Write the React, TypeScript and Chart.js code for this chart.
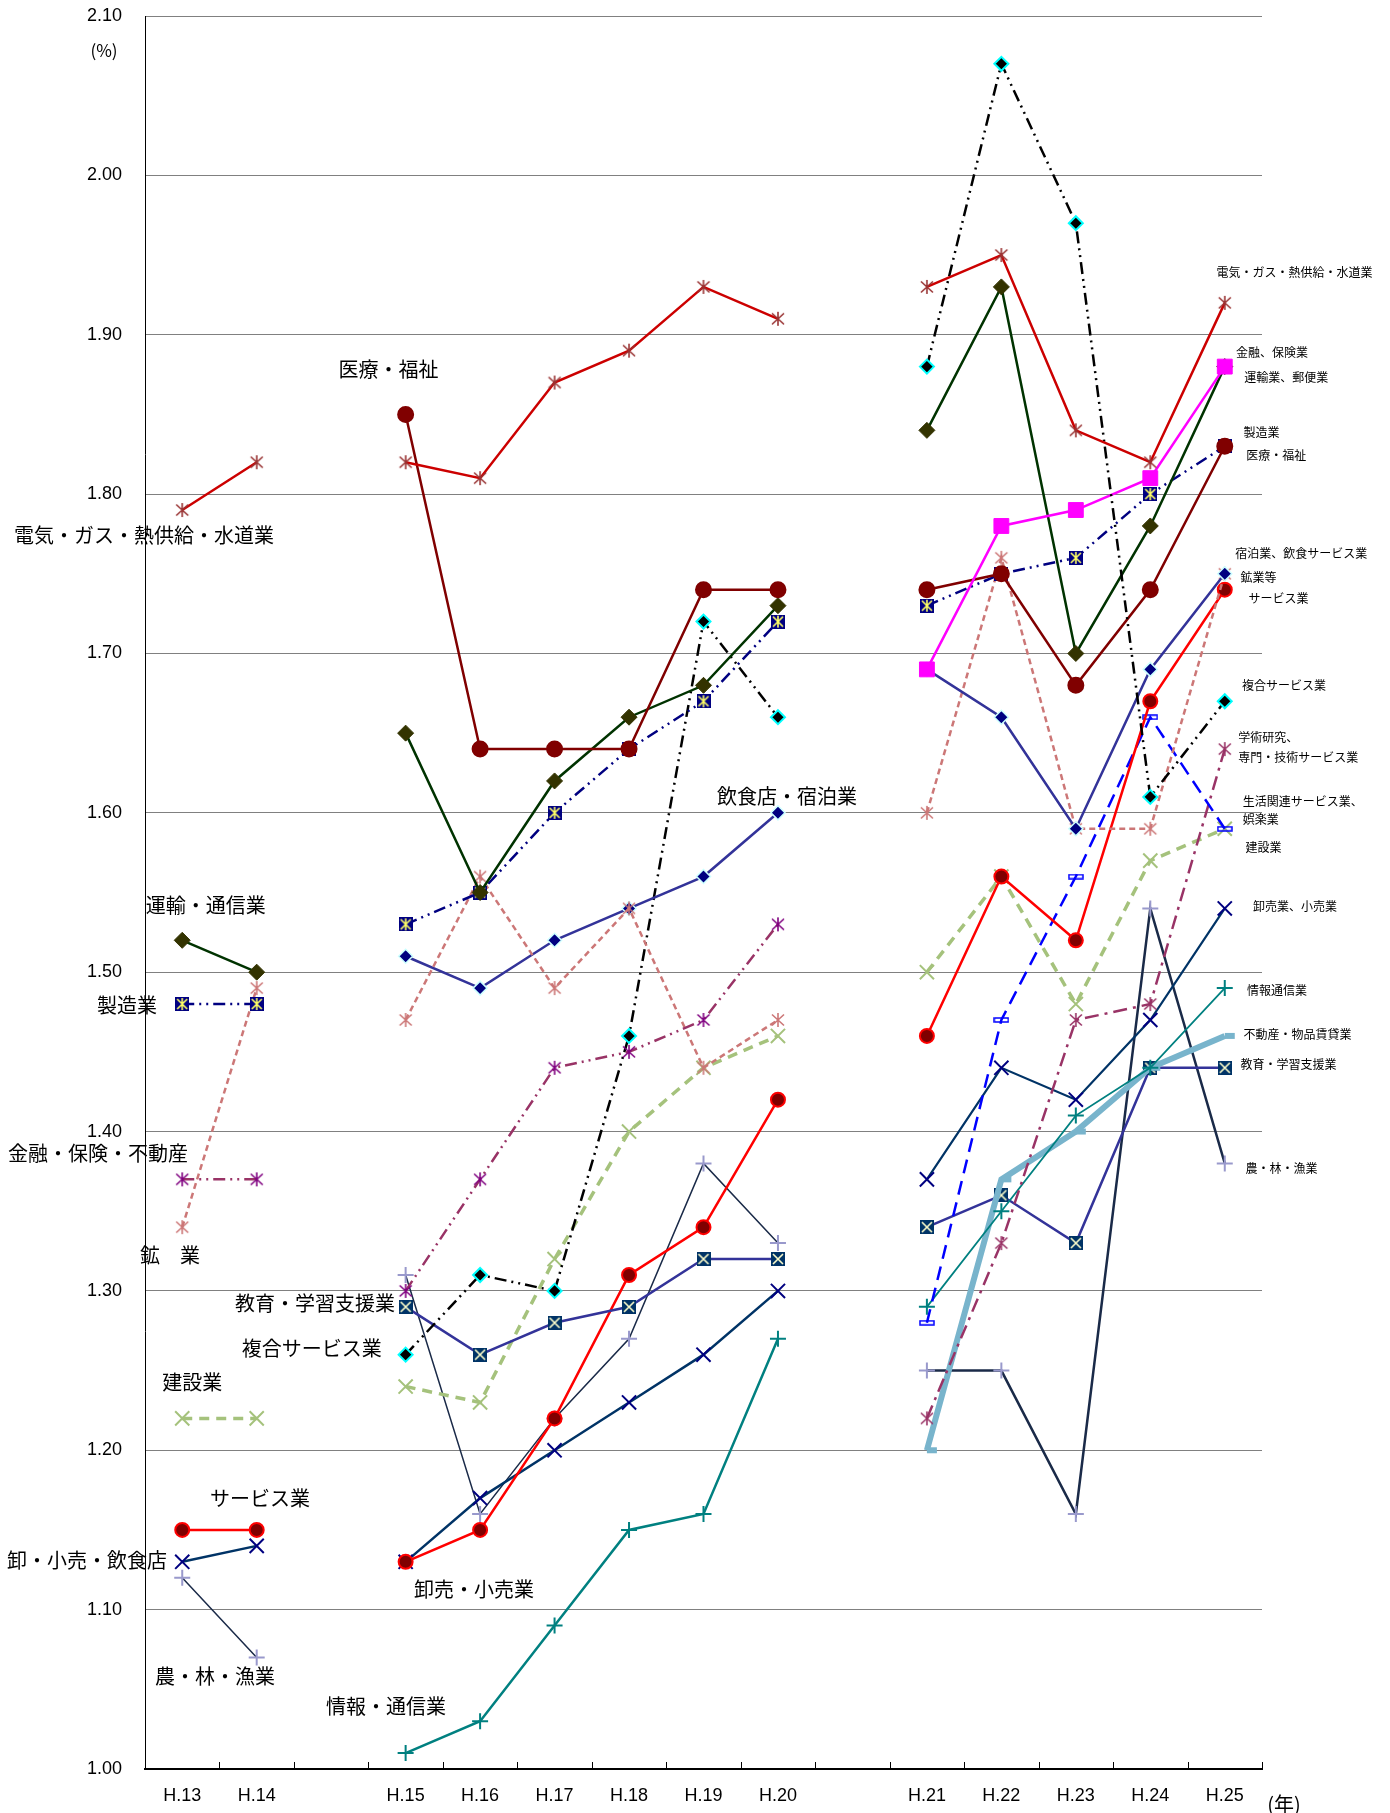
import React, { useEffect, useRef } from 'react';
import { Chart, registerables } from 'chart.js';

Chart.register(...registerables);

// ---- categories (15 slots: two gaps separate the three classifications) ----
const categories = ['H.13', 'H.14', '', 'H.15', 'H.16', 'H.17', 'H.18', 'H.19', 'H.20', '', 'H.21', 'H.22', 'H.23', 'H.24', 'H.25'];
const yTickMin = 1.0;
const yTickMax = 2.1;
const yTickStep = 0.1;

// ---- older classification: H.13, H.14, H.15, H.16, H.17, H.18, H.19, H.20 ----
const oldDenki = [1.79, 1.82, 1.82, 1.81, 1.87, 1.89, 1.93, 1.91];
const oldIryo = [null, null, 1.85, 1.64, 1.64, 1.64, 1.74, 1.74];
const oldUnyu = [1.52, 1.50, 1.65, 1.55, 1.62, 1.66, 1.68, 1.73];
const oldSeizo = [1.48, 1.48, 1.53, 1.55, 1.60, 1.64, 1.67, 1.72];
const oldKinyu = [1.37, 1.37, 1.30, 1.37, 1.44, 1.45, 1.47, 1.53];
const oldKogyo = [1.34, 1.49, 1.47, 1.56, 1.49, 1.54, 1.44, 1.47];
const oldInshoku = [null, null, 1.51, 1.49, 1.52, 1.54, 1.56, 1.60];
const oldFukugo = [null, null, 1.26, 1.31, 1.30, 1.46, 1.72, 1.66];
const oldKyoiku = [null, null, 1.29, 1.26, 1.28, 1.29, 1.32, 1.32];
const oldKensetsu = [1.22, 1.22, 1.24, 1.23, 1.32, 1.40, 1.44, 1.46];
const oldService = [1.15, 1.15, 1.13, 1.15, 1.22, 1.31, 1.34, 1.42];
const oldOroshi = [1.13, 1.14, 1.13, 1.17, 1.20, 1.23, 1.26, 1.30];
const oldNorin = [1.12, 1.07, 1.31, 1.16, 1.22, 1.27, 1.38, 1.33];
const oldJoho = [null, null, 1.01, 1.03, 1.09, 1.15, 1.16, 1.27];

// ---- newer classification: H.21 .. H.25 ----
const newDenki = [1.93, 1.95, 1.84, 1.82, 1.92];
const newFukugo = [1.88, 2.07, 1.97, 1.61, 1.67];
const newUnyu = [1.84, 1.93, 1.70, 1.78, 1.88];
const newKinyu = [1.69, 1.78, 1.79, 1.81, 1.88];
const newSeizo = [1.73, 1.75, 1.76, 1.80, 1.83];
const newIryo = [1.74, 1.75, 1.68, 1.74, 1.83];
const newShukuhaku = [1.69, 1.66, 1.59, 1.69, 1.75];
const newKogyo = [1.60, 1.76, 1.59, 1.59, 1.75];
const newService = [1.46, 1.56, 1.52, 1.67, 1.74];
const newSeikatsu = [1.28, 1.47, 1.56, 1.66, 1.59];
const newGakujutsu = [1.22, 1.33, 1.47, 1.48, 1.64];
const newKensetsu = [1.50, 1.56, 1.48, 1.57, 1.59];
const newOroshi = [1.37, 1.44, 1.42, 1.47, 1.54];
const newJoho = [1.29, 1.35, 1.41, 1.44, 1.49];
const newFudosan = [1.20, 1.37, 1.40, 1.44, 1.46];
const newKyoiku = [1.34, 1.36, 1.33, 1.44, 1.44];
const newNorin = [1.25, 1.25, 1.16, 1.54, 1.38];

// ---- on-chart labels, anchored in data units (slot index, value) ----
const bigLabels: [string, number, number][] = [
  ['電気・ガス・熱供給・水道業', -2.26, 1.774],
  ['医療・福祉', 2.1, 1.8785],
  ['運輸・通信業', -0.49, 1.542],
  ['製造業', -1.145, 1.479],
  ['金融・保険・不動産', -2.34, 1.386],
  ['鉱　業', -0.567, 1.3225],
  ['教育・学習支援業', 0.71, 1.292],
  ['複合サービス業', 0.8, 1.264],
  ['建設業', -0.27, 1.2425],
  ['サービス業', 0.373, 1.17],
  ['卸・小売・飲食店', -2.353, 1.131],
  ['卸売・小売業', 3.112, 1.113],
  ['農・林・漁業', -0.366, 1.058],
  ['情報・通信業', 1.93, 1.039],
  ['飲食店・宿泊業', 7.18, 1.61],
];
const smallLabels: [string, number, number][] = [
  ['電気・ガス・熱供給・水道業', 13.89, 1.939],
  ['金融、保険業', 14.15, 1.889],
  ['運輸業、郵便業', 14.26, 1.8735],
  ['製造業', 14.25, 1.839],
  ['医療・福祉', 14.29, 1.8245],
  ['宿泊業、飲食サービス業', 14.14, 1.763],
  ['鉱業等', 14.21, 1.748],
  ['サービス業', 14.32, 1.7345],
  ['複合サービス業', 14.23, 1.68],
  ['学術研究、', 14.18, 1.647],
  ['専門・技術サービス業', 14.18, 1.635],
  ['生活関連サービス業、', 14.24, 1.607],
  ['娯楽業', 14.24, 1.596],
  ['建設業', 14.28, 1.5785],
  ['卸売業、小売業', 14.38, 1.541],
  ['情報通信業', 14.3, 1.4885],
  ['不動産・物品賃貸業', 14.25, 1.461],
  ['教育・学習支援業', 14.21, 1.442],
  ['農・林・漁業', 14.28, 1.377],
];
const unitY = '(%)';
const unitX = '(年)';

const placeOld = (a: (number | null)[]) => [a[0], a[1], null, ...a.slice(2), null, null, null, null, null, null];
const placeNew = (a: (number | null)[]) => [...Array(10).fill(null), ...a];

function mk(size: number, draw: (g: CanvasRenderingContext2D, s: number) => void, h?: number) {
  const c = document.createElement('canvas');
  c.width = size;
  c.height = h ?? size;
  const g = c.getContext('2d')!;
  draw(g, size);
  return c;
}
function asterisk(color: string) {
  return mk(16, (g, s) => {
    g.strokeStyle = color;
    g.lineWidth = 1.6;
    const m = s / 2;
    g.beginPath();
    g.moveTo(m, 1); g.lineTo(m, s - 1);
    g.moveTo(2, 2.5); g.lineTo(s - 2, s - 2.5);
    g.moveTo(2, s - 2.5); g.lineTo(s - 2, 2.5);
    g.stroke();
  });
}
function xBox(bg: string, fg: string, withBar: boolean) {
  return mk(14, (g, s) => {
    g.fillStyle = bg;
    g.fillRect(0, 0, s, s);
    g.strokeStyle = fg;
    g.lineWidth = 1.6;
    g.beginPath();
    g.moveTo(2, 2); g.lineTo(s - 2, s - 2);
    g.moveTo(2, s - 2); g.lineTo(s - 2, 2);
    if (withBar) { g.moveTo(s / 2, 1); g.lineTo(s / 2, s - 1); }
    g.stroke();
  });
}
function dashBox(color: string) {
  return mk(16, (g, s) => {
    g.strokeStyle = color;
    g.lineWidth = 1.5;
    g.strokeRect(1, 1, s - 2, 4);
  }, 6);
}

export default function App() {
  const ref = useRef<HTMLCanvasElement>(null);
  useEffect(() => {
    if (!ref.current) return;
    const DDD = [12, 5, 2, 5, 2, 5];
    const base = (label: string, data: any[], color: string, extra: any) => ({
      label, data, borderColor: color, backgroundColor: color, pointBorderColor: color, pointBackgroundColor: color,
      borderWidth: 2.5, pointRadius: 7, pointBorderWidth: 2, spanGaps: false, tension: 0, ...extra,
    });
    const datasets = [
      // older classification
      base('電気・ガス・熱供給・水道業', placeOld(oldDenki), '#cc0000', { pointStyle: asterisk('#993333') }),
      base('医療・福祉', placeOld(oldIryo), '#800000', { pointStyle: 'circle', pointRadius: 7.5 }),
      base('運輸・通信業', placeOld(oldUnyu), '#003300', { pointStyle: 'rectRot', pointRadius: 8, pointBackgroundColor: '#333300', pointBorderColor: '#333300', pointBorderWidth: 1 }),
      base('製造業', placeOld(oldSeizo), '#000080', { borderDash: DDD, pointStyle: xBox('#000080', '#ffff66', true) }),
      base('金融・保険・不動産', placeOld(oldKinyu), '#993366', { borderDash: DDD, pointStyle: asterisk('#800080') }),
      base('鉱業', placeOld(oldKogyo), '#cc7777', { borderDash: [6, 4], pointStyle: asterisk('#cc7777') }),
      base('飲食店・宿泊業', placeOld(oldInshoku), '#333399', { pointStyle: 'rectRot', pointRadius: 7, pointBackgroundColor: '#000080', pointBorderColor: '#ccffff', pointBorderWidth: 1.5 }),
      base('複合サービス業', placeOld(oldFukugo), '#000000', { borderDash: DDD, pointStyle: 'rectRot', pointRadius: 7, pointBackgroundColor: '#000000', pointBorderColor: '#00ffff', pointBorderWidth: 2 }),
      base('教育・学習支援業', placeOld(oldKyoiku), '#333399', { pointStyle: xBox('#003366', '#ffffcc', false) }),
      base('建設業', placeOld(oldKensetsu), '#a5c27c', { borderWidth: 3.5, borderDash: [10, 7], pointStyle: 'crossRot', pointRadius: 10 }),
      base('サービス業', placeOld(oldService), '#ff0000', { pointStyle: 'circle', pointRadius: 7, pointBackgroundColor: '#800000', pointBorderColor: '#ff0000' }),
      base('卸・小売・飲食店', placeOld(oldOroshi), '#003366', { pointStyle: 'crossRot', pointRadius: 10, pointBorderColor: '#000080' }),
      base('農・林・漁業', placeOld(oldNorin), '#1a2a48', { borderWidth: 1.5, pointStyle: 'cross', pointRadius: 8, pointBorderColor: '#9999cc' }),
      base('情報・通信業', placeOld(oldJoho), '#008080', { pointStyle: 'cross', pointRadius: 8 }),
      // newer classification
      base('電気・ガス・熱供給・水道業 (新)', placeNew(newDenki), '#cc0000', { pointStyle: asterisk('#993333') }),
      base('複合サービス業 (新)', placeNew(newFukugo), '#000000', { borderDash: DDD, pointStyle: 'rectRot', pointRadius: 7, pointBackgroundColor: '#000000', pointBorderColor: '#00ffff', pointBorderWidth: 2 }),
      base('金融、保険業', placeNew(newKinyu), '#ff00ff', { pointStyle: 'rect', pointRadius: 10.5, pointBorderWidth: 1 }),
      base('運輸業、郵便業', placeNew(newUnyu), '#003300', { pointStyle: 'rectRot', pointRadius: 8, pointBackgroundColor: '#333300', pointBorderColor: '#333300', pointBorderWidth: 1 }),
      base('医療・福祉 (新)', placeNew(newIryo), '#800000', { pointStyle: 'circle', pointRadius: 7.5 }),
      base('製造業 (新)', placeNew(newSeizo), '#000080', { borderDash: DDD, pointStyle: xBox('#000080', '#ffff66', true) }),
      base('宿泊業、飲食サービス業', placeNew(newShukuhaku), '#333399', { pointStyle: 'rectRot', pointRadius: 7, pointBackgroundColor: '#000080', pointBorderColor: '#ccffff', pointBorderWidth: 1.5 }),
      base('鉱業等', placeNew(newKogyo), '#cc7777', { borderDash: [6, 4], pointStyle: asterisk('#cc7777') }),
      base('サービス業 (新)', placeNew(newService), '#ff0000', { pointStyle: 'circle', pointRadius: 7, pointBackgroundColor: '#800000', pointBorderColor: '#ff0000' }),
      base('生活関連サービス業、娯楽業', placeNew(newSeikatsu), '#0000ff', { borderDash: [14, 8], pointStyle: dashBox('#0000ff') }),
      base('学術研究、専門・技術サービス業', placeNew(newGakujutsu), '#993366', { borderDash: [14, 6, 3, 6], pointStyle: asterisk('#993366') }),
      base('建設業 (新)', placeNew(newKensetsu), '#a5c27c', { borderWidth: 3.5, borderDash: [10, 7], pointStyle: 'crossRot', pointRadius: 10 }),
      base('卸売業、小売業', placeNew(newOroshi), '#003366', { borderWidth: 2.2, pointStyle: 'crossRot', pointRadius: 10, pointBorderColor: '#000080' }),
      base('情報通信業', placeNew(newJoho), '#008080', { borderWidth: 1.8, pointStyle: 'cross', pointRadius: 8 }),
      base('不動産・物品賃貸業', placeNew(newFudosan), '#78b4cc', { borderWidth: 6, pointStyle: 'dash', pointRadius: 10, pointBorderWidth: 6 }),
      base('教育・学習支援業 (新)', placeNew(newKyoiku), '#333399', { pointStyle: xBox('#003366', '#ffffcc', false) }),
      base('農・林・漁業 (新)', placeNew(newNorin), '#1a2a48', { borderWidth: 2.5, pointStyle: 'cross', pointRadius: 8, pointBorderColor: '#9999cc' }),
    ];

    const overlay = {
      id: 'overlay',
      afterDraw(chart: any) {
        const { ctx, chartArea } = chart;
        const x = chart.scales.x;
        const y = chart.scales.y;
        ctx.save();
        // inward tick marks on the category axis, at slot boundaries
        ctx.strokeStyle = '#000';
        ctx.lineWidth = 1;
        for (let i = 0; i <= categories.length; i++) {
          const px = Math.round(x.getPixelForValue(i - 0.5)) + 0.5;
          ctx.beginPath();
          ctx.moveTo(px, chartArea.bottom);
          ctx.lineTo(px, chartArea.bottom - 7);
          ctx.stroke();
        }
        ctx.fillStyle = '#000';
        ctx.textBaseline = 'middle';
        ctx.textAlign = 'left';
        ctx.font = '20px "Noto Sans CJK JP"';
        for (const [t, s, v] of bigLabels) ctx.fillText(t, x.getPixelForValue(s), y.getPixelForValue(v));
        ctx.font = '12px "Noto Sans CJK JP"';
        for (const [t, s, v] of smallLabels) ctx.fillText(t, x.getPixelForValue(s), y.getPixelForValue(v));
        ctx.textAlign = 'center';
        ctx.font = '17px "Noto Sans CJK JP"';
        ctx.fillText(unitY, chartArea.left - 41, chartArea.top + 35);
        ctx.font = '20px "Noto Sans CJK JP"';
        ctx.fillText(unitX, chartArea.right + 22, chartArea.bottom + 35);
        ctx.restore();
      },
    };

    const chart = new Chart(ref.current, {
      type: 'line',
      data: { labels: categories, datasets: datasets as any },
      options: {
        animation: false,
        responsive: false,
        events: [],
        layout: { padding: { left: 0, top: 12, right: 128, bottom: 0 } },
        plugins: { legend: { display: false }, tooltip: { enabled: false } },
        scales: {
          x: {
            offset: true,
            grid: { display: false, drawTicks: false },
            border: { display: true, color: '#000', width: 2 },
            ticks: { autoSkip: false, maxRotation: 0, padding: 16, color: '#000', font: { family: 'Liberation Sans', size: 18 } },
            afterFit: (s: any) => { s.height = 44; },
          },
          y: {
            min: yTickMin,
            max: yTickMax,
            grid: { color: '#808080', lineWidth: 1, drawTicks: true, tickLength: 23, tickColor: 'rgba(0,0,0,0)' },
            border: { display: true, color: '#000', width: 1 },
            ticks: { stepSize: yTickStep, padding: 0, color: '#000', font: { family: 'Liberation Sans', size: 18 }, callback: (v: any) => Number(v).toFixed(2) },
            afterFit: (s: any) => { s.width = 145; },
          },
        },
      },
      plugins: [overlay],
    });
    return () => chart.destroy();
  }, []);
  return (
    <div style={{ position: 'absolute', left: 0, top: 0, width: 1390, height: 1813, background: '#fff' }}>
      <canvas ref={ref} width={1390} height={1813} style={{ display: 'block' }} />
    </div>
  );
}
